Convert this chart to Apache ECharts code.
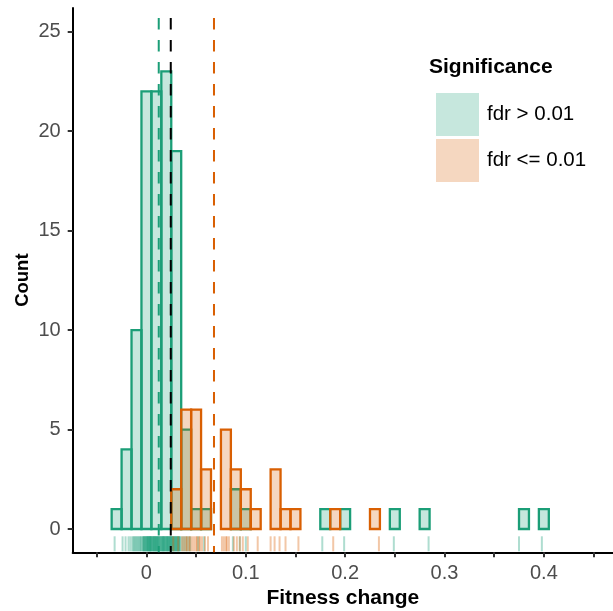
<!DOCTYPE html>
<html>
<head>
<meta charset="utf-8">
<script src="https://cdn.jsdelivr.net/npm/echarts@6/dist/echarts.min.js"></script>
<style>
  html, body { margin: 0; padding: 0; background: #fff; }
  #main { width: 613px; height: 611px; }
</style>
</head>
<body>
<div id="main"></div>
<script>
// bin centres (binwidth 0.01)
var binWidth = 0.01;
var binCenters = [-0.03,-0.02,-0.01,0,0.01,0.02,0.03,0.04,0.05,0.06,0.07,0.08,0.09,0.10,0.11,0.12,0.13,0.14,0.15,0.16,0.17,0.18,0.19,0.20,0.21,0.22,0.23,0.24,0.25,0.26,0.27,0.28,0.29,0.30,0.31,0.32,0.33,0.34,0.35,0.36,0.37,0.38,0.39,0.40];
// counts per bin
var countsNotSig = [1,4,10,22,22,23,19,5,1,1,0,0,2,1,0,0,0,0,0,0,0,1,0,1,0,0,0,0,1,0,0,1,0,0,0,0,0,0,0,0,0,1,0,1];
var countsSig    = [0,0,0,0,0,0,2,6,6,3,0,5,3,2,1,0,3,1,1,0,0,0,1,0,0,0,1,0,0,0,0,0,0,0,0,0,0,0,0,0,0,0,0,0];
// rug values
var rugNotSig = [-0.032,-0.024,-0.021,-0.018,-0.016,
  -0.014,-0.013,-0.012,-0.011,-0.010,-0.009,-0.008,-0.007,-0.006,-0.0055,
  -0.004,-0.0035,-0.003,-0.0025,-0.002,-0.0015,-0.001,-0.0005,0,0.0005,0.001,0.0012,0.0015,0.002,0.0025,0.003,0.0032,0.0035,0.004,0.0042,0.0045,0.0048,
  0.0055,0.006,0.0065,0.007,0.0072,0.0075,0.008,0.0085,0.009,0.0092,0.0095,0.010,0.0105,0.011,0.0112,0.0115,0.012,0.0125,0.013,0.0135,0.014,0.0145,
  0.0152,0.0155,0.016,0.0165,0.017,0.0172,0.0175,0.018,0.0185,0.019,0.0195,0.020,0.0205,0.021,0.0212,0.0215,0.022,0.0225,0.023,0.0235,0.024,0.0242,0.0245,
  0.0252,0.0255,0.026,0.0265,0.027,0.0275,0.028,0.0285,0.029,0.0295,0.030,0.0305,0.031,0.0315,0.032,0.0325,0.033,0.0335,0.034,
  0.036,0.038,0.040,0.042,0.044,0.052,0.058,0.087,0.094,0.100,
  0.177,0.199,0.249,0.284,0.375,0.398];
var rugSig = [0.027,0.032,0.036,0.038,0.040,0.041,0.043,0.044,0.046,0.048,0.050,0.051,0.053,0.054,
  0.056,0.059,0.062,0.076,0.078,0.080,0.081,0.083,0.088,0.091,0.094,0.097,0.102,0.112,
  0.125,0.129,0.134,0.140,0.153,0.188,0.234];
// group means (dashed lines)
var meanNotSig = 0.0124;
var meanSig = 0.068;
var meanAll = 0.0245;

var xTicks = [-0.05,0,0.05,0.1,0.15,0.2,0.25,0.3,0.35,0.4,0.45];
var xLabels = [0,0.1,0.2,0.3,0.4];
var yTicks = [0,5,10,15,20,25];

var green = '#1B9E77', orange = '#D95F02';
var greenFill = 'rgba(27,158,119,0.25)', orangeFill = 'rgba(217,95,2,0.25)';

function histSeries(name, counts, stroke, fill) {
  return {
    name: name,
    type: 'custom',
    itemStyle: { color: fill, borderWidth: 0 },
    data: binCenters.map(function (c, i) { return [c, counts[i]]; }),
    renderItem: function (params, api) {
      var c = api.value(0), n = api.value(1);
      if (!n) return;
      var p0 = api.coord([c - binWidth / 2, n]);
      var p1 = api.coord([c + binWidth / 2, 0]);
      return {
        type: 'rect',
        shape: { x: p0[0], y: p0[1], width: p1[0] - p0[0], height: p1[1] - p0[1] },
        style: { fill: fill, stroke: stroke, lineWidth: 2.3 }
      };
    }
  };
}

function rugSeries(vals, color) {
  return {
    type: 'custom',
    silent: true,
    data: vals.map(function (v) { return [v, 0]; }),
    renderItem: function (params, api) {
      var p = api.coord([api.value(0), 0]);
      var bottom = params.coordSys.y + params.coordSys.height;
      return {
        type: 'line',
        shape: { x1: p[0], y1: bottom - 1, x2: p[0], y2: bottom - 16 },
        style: { stroke: color, lineWidth: 2 }
      };
    }
  };
}

function vlineSeries(v, color) {
  return {
    type: 'custom',
    silent: true,
    data: [[v, 0]],
    renderItem: function (params, api) {
      var p = api.coord([api.value(0), 0]);
      var top = params.coordSys.y;
      var bottom = params.coordSys.y + params.coordSys.height;
      return {
        type: 'line',
        shape: { x1: p[0], y1: top, x2: p[0], y2: bottom },
        style: { stroke: color, lineWidth: 2, lineDash: [11.5, 10.5], lineDashOffset: 12 }
      };
    }
  };
}

var chart = echarts.init(document.getElementById('main'));
var option = {
  animation: false,
  textStyle: { fontFamily: 'Liberation Sans' },
  title: {
    text: 'Significance',
    left: 424, top: 52,
    textStyle: { fontFamily: 'Liberation Sans', fontWeight: 'bold', fontSize: 21, color: '#000' }
  },
  legend: {
    orient: 'vertical',
    left: 431, top: 88,
    itemWidth: 43, itemHeight: 43, itemGap: 3,
    selectedMode: false,
    data: [
      { name: 'fdr > 0.01', icon: 'rect' },
      { name: 'fdr <= 0.01', icon: 'rect' }
    ],
    textStyle: { fontFamily: 'Liberation Sans', fontSize: 20.5, color: '#000', padding: [0, 0, 0, 3] }
  },
  grid: { left: 72.7, right: 0, top: 8, bottom: 58.7, containLabel: false, outerBoundsMode: 'none' },
  xAxis: {
    type: 'value',
    min: -0.0742, max: 0.4696,
    name: 'Fitness change',
    nameLocation: 'middle',
    nameGap: 35,
    nameMoveOverlap: false,
    nameTextStyle: { fontFamily: 'Liberation Sans', fontWeight: 'bold', fontSize: 21, color: '#000' },
    axisLine: { onZero: false, lineStyle: { color: '#000', width: 2 } },
    axisTick: { customValues: xTicks, length: 5, lineStyle: { color: '#333', width: 2 } },
    axisLabel: {
      customValues: xLabels, margin: 11,
      fontFamily: 'Liberation Sans', fontSize: 20, color: '#4D4D4D',
      formatter: function (v) { return String(v); }
    },
    splitLine: { show: false }
  },
  yAxis: {
    type: 'value',
    min: -1.17, max: 26.19,
    name: 'Count',
    nameLocation: 'middle',
    nameGap: 40,
    nameRotate: 90,
    nameMoveOverlap: false,
    nameTextStyle: { fontFamily: 'Liberation Sans', fontWeight: 'bold', fontSize: 18.5, color: '#000' },
    axisLine: { show: true, onZero: false, lineStyle: { color: '#000', width: 2 } },
    axisTick: { show: true, customValues: yTicks, length: 5, lineStyle: { color: '#333', width: 2 } },
    axisLabel: {
      customValues: yTicks, margin: 12,
      fontFamily: 'Liberation Sans', fontSize: 20, color: '#4D4D4D'
    },
    splitLine: { show: false }
  },
  series: [
    histSeries('fdr > 0.01', countsNotSig, green, greenFill),
    histSeries('fdr <= 0.01', countsSig, orange, orangeFill),
    rugSeries(rugNotSig, 'rgba(27,158,119,0.35)'),
    rugSeries(rugSig, 'rgba(217,95,2,0.35)'),
    vlineSeries(meanNotSig, green),
    vlineSeries(meanSig, orange),
    vlineSeries(meanAll, '#000')
  ]
};
chart.setOption(option);
</script>
</body>
</html>
